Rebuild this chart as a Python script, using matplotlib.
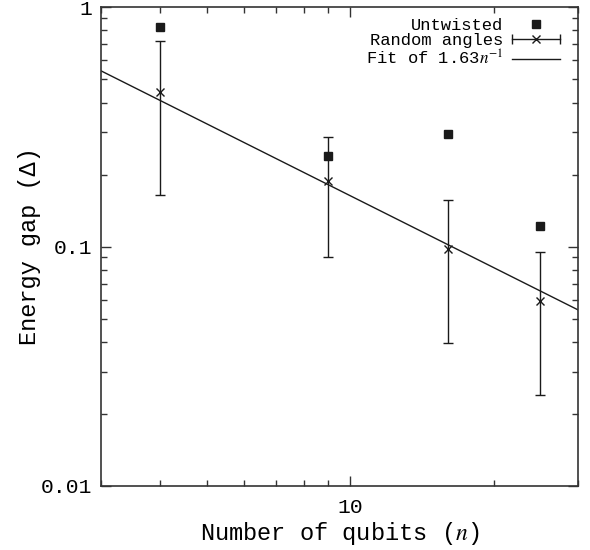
#!/usr/bin/env python3
"""
Energy gap against number of qubits, log-log, with a 1/n fit.
"""

import matplotlib

matplotlib.use("Agg")
import matplotlib.pyplot as plt
import numpy as np
from matplotlib.lines import Line2D
from matplotlib.legend_handler import HandlerLine2D, HandlerTuple
from matplotlib.ticker import FixedLocator, FixedFormatter, NullFormatter, LogLocator

# Data
qubits = [4, 9, 16, 25]
untwisted = [0.830, 0.238, 0.294, 0.122]
random_mean = [0.443, 0.188, 0.098, 0.059]
random_low = [0.164, 0.090, 0.0394, 0.0239]
random_high = [0.724, 0.288, 0.156, 0.0946]
fit_coeff = 1.63

x_range = [3, 30]
y_range = [0.01, 1]
y_ticks = [0.01, 0.1, 1]
y_tick_labels = ["0.01", "0.1", "1"]
x_ticks = [10]
x_tick_labels = ["10"]

FONT = ["Liberation Mono", "DejaVu Sans Mono"]


def main():
    plt.rcParams["font.family"] = FONT
    plt.rcParams["mathtext.fontset"] = "stix"

    fig = plt.figure(figsize=(5.9, 5.5), dpi=100)
    ax = fig.add_axes([0.1707, 0.1169, 0.809, 0.8698])

    # Untwisted points
    (sq,) = ax.plot(qubits, untwisted, ls="none", marker="s", ms=6,
                    color="#1a1a1a", label="Untwisted")

    # Random angles with asymmetric error bars
    mean = np.array(random_mean)
    yerr = [mean - np.array(random_low), np.array(random_high) - mean]
    ax.errorbar(qubits, mean, yerr=yerr, fmt="x", color="#1a1a1a", ms=6,
                mew=1.0, elinewidth=1.0, capsize=3.5, capthick=1.0)

    # Fit line over the full axis range
    n_fit = np.geomspace(x_range[0], x_range[1], 50)
    (fit,) = ax.plot(n_fit, fit_coeff / n_fit, color="#1a1a1a", lw=1.0)

    ax.set_xscale("log")
    ax.set_yscale("log")
    ax.set_xlim(*x_range)
    ax.set_ylim(*y_range)

    ax.xaxis.set_major_locator(FixedLocator(x_ticks))
    ax.xaxis.set_major_formatter(FixedFormatter(x_tick_labels))
    ax.xaxis.set_minor_locator(LogLocator(base=10, subs=np.arange(2, 10)))
    ax.xaxis.set_minor_formatter(NullFormatter())
    ax.yaxis.set_major_locator(FixedLocator(y_ticks))
    ax.yaxis.set_major_formatter(FixedFormatter(y_tick_labels))
    ax.yaxis.set_minor_locator(LogLocator(base=10, subs=np.arange(2, 10)))
    ax.yaxis.set_minor_formatter(NullFormatter())

    ax.tick_params(which="both", direction="in", top=True, right=True,
                   color="#333333", width=1.0)
    ax.tick_params(which="major", length=7, labelsize=15.4)
    ax.tick_params(axis="y", which="major", pad=6)
    ax.tick_params(axis="x", which="major", pad=9)
    ax.tick_params(which="minor", length=4)
    for spine in ax.spines.values():
        spine.set_linewidth(1.2)
        spine.set_color("#333333")

    ax.set_xlabel("Number of qubits ($n$)", fontsize=17)
    ax.set_ylabel("Energy gap (Δ)", fontsize=17)
    ax.xaxis.set_label_coords(0.5, -0.072)
    ax.yaxis.set_label_coords(-0.125, 0.5)

    # gnuplot-style legend: text right-aligned, symbol on the right
    caps = Line2D([], [], color="#1a1a1a", lw=1.0, marker="|", ms=7, mew=1.0)
    cross = Line2D([], [], ls="none", color="#1a1a1a", marker="x", ms=6, mew=1.0)
    handles = [sq, (caps, cross), fit]
    labels = ["Untwisted", "Random angles", "Fit of 1.63$n^{-1}$"]
    ax.legend(handles, labels, loc="upper right", bbox_to_anchor=(0.962, 0.978),
              markerfirst=False, frameon=False, fontsize=12.3,
              borderaxespad=0, borderpad=0, handlelength=2.8,
              handletextpad=0.5, labelspacing=0.02,
              handler_map={caps: HandlerLine2D(numpoints=2, marker_pad=0),
                           cross: HandlerLine2D(numpoints=1),
                           tuple: HandlerTuple(ndivide=1)})

    fig.savefig("out.png", dpi=100)


if __name__ == "__main__":
    main()
